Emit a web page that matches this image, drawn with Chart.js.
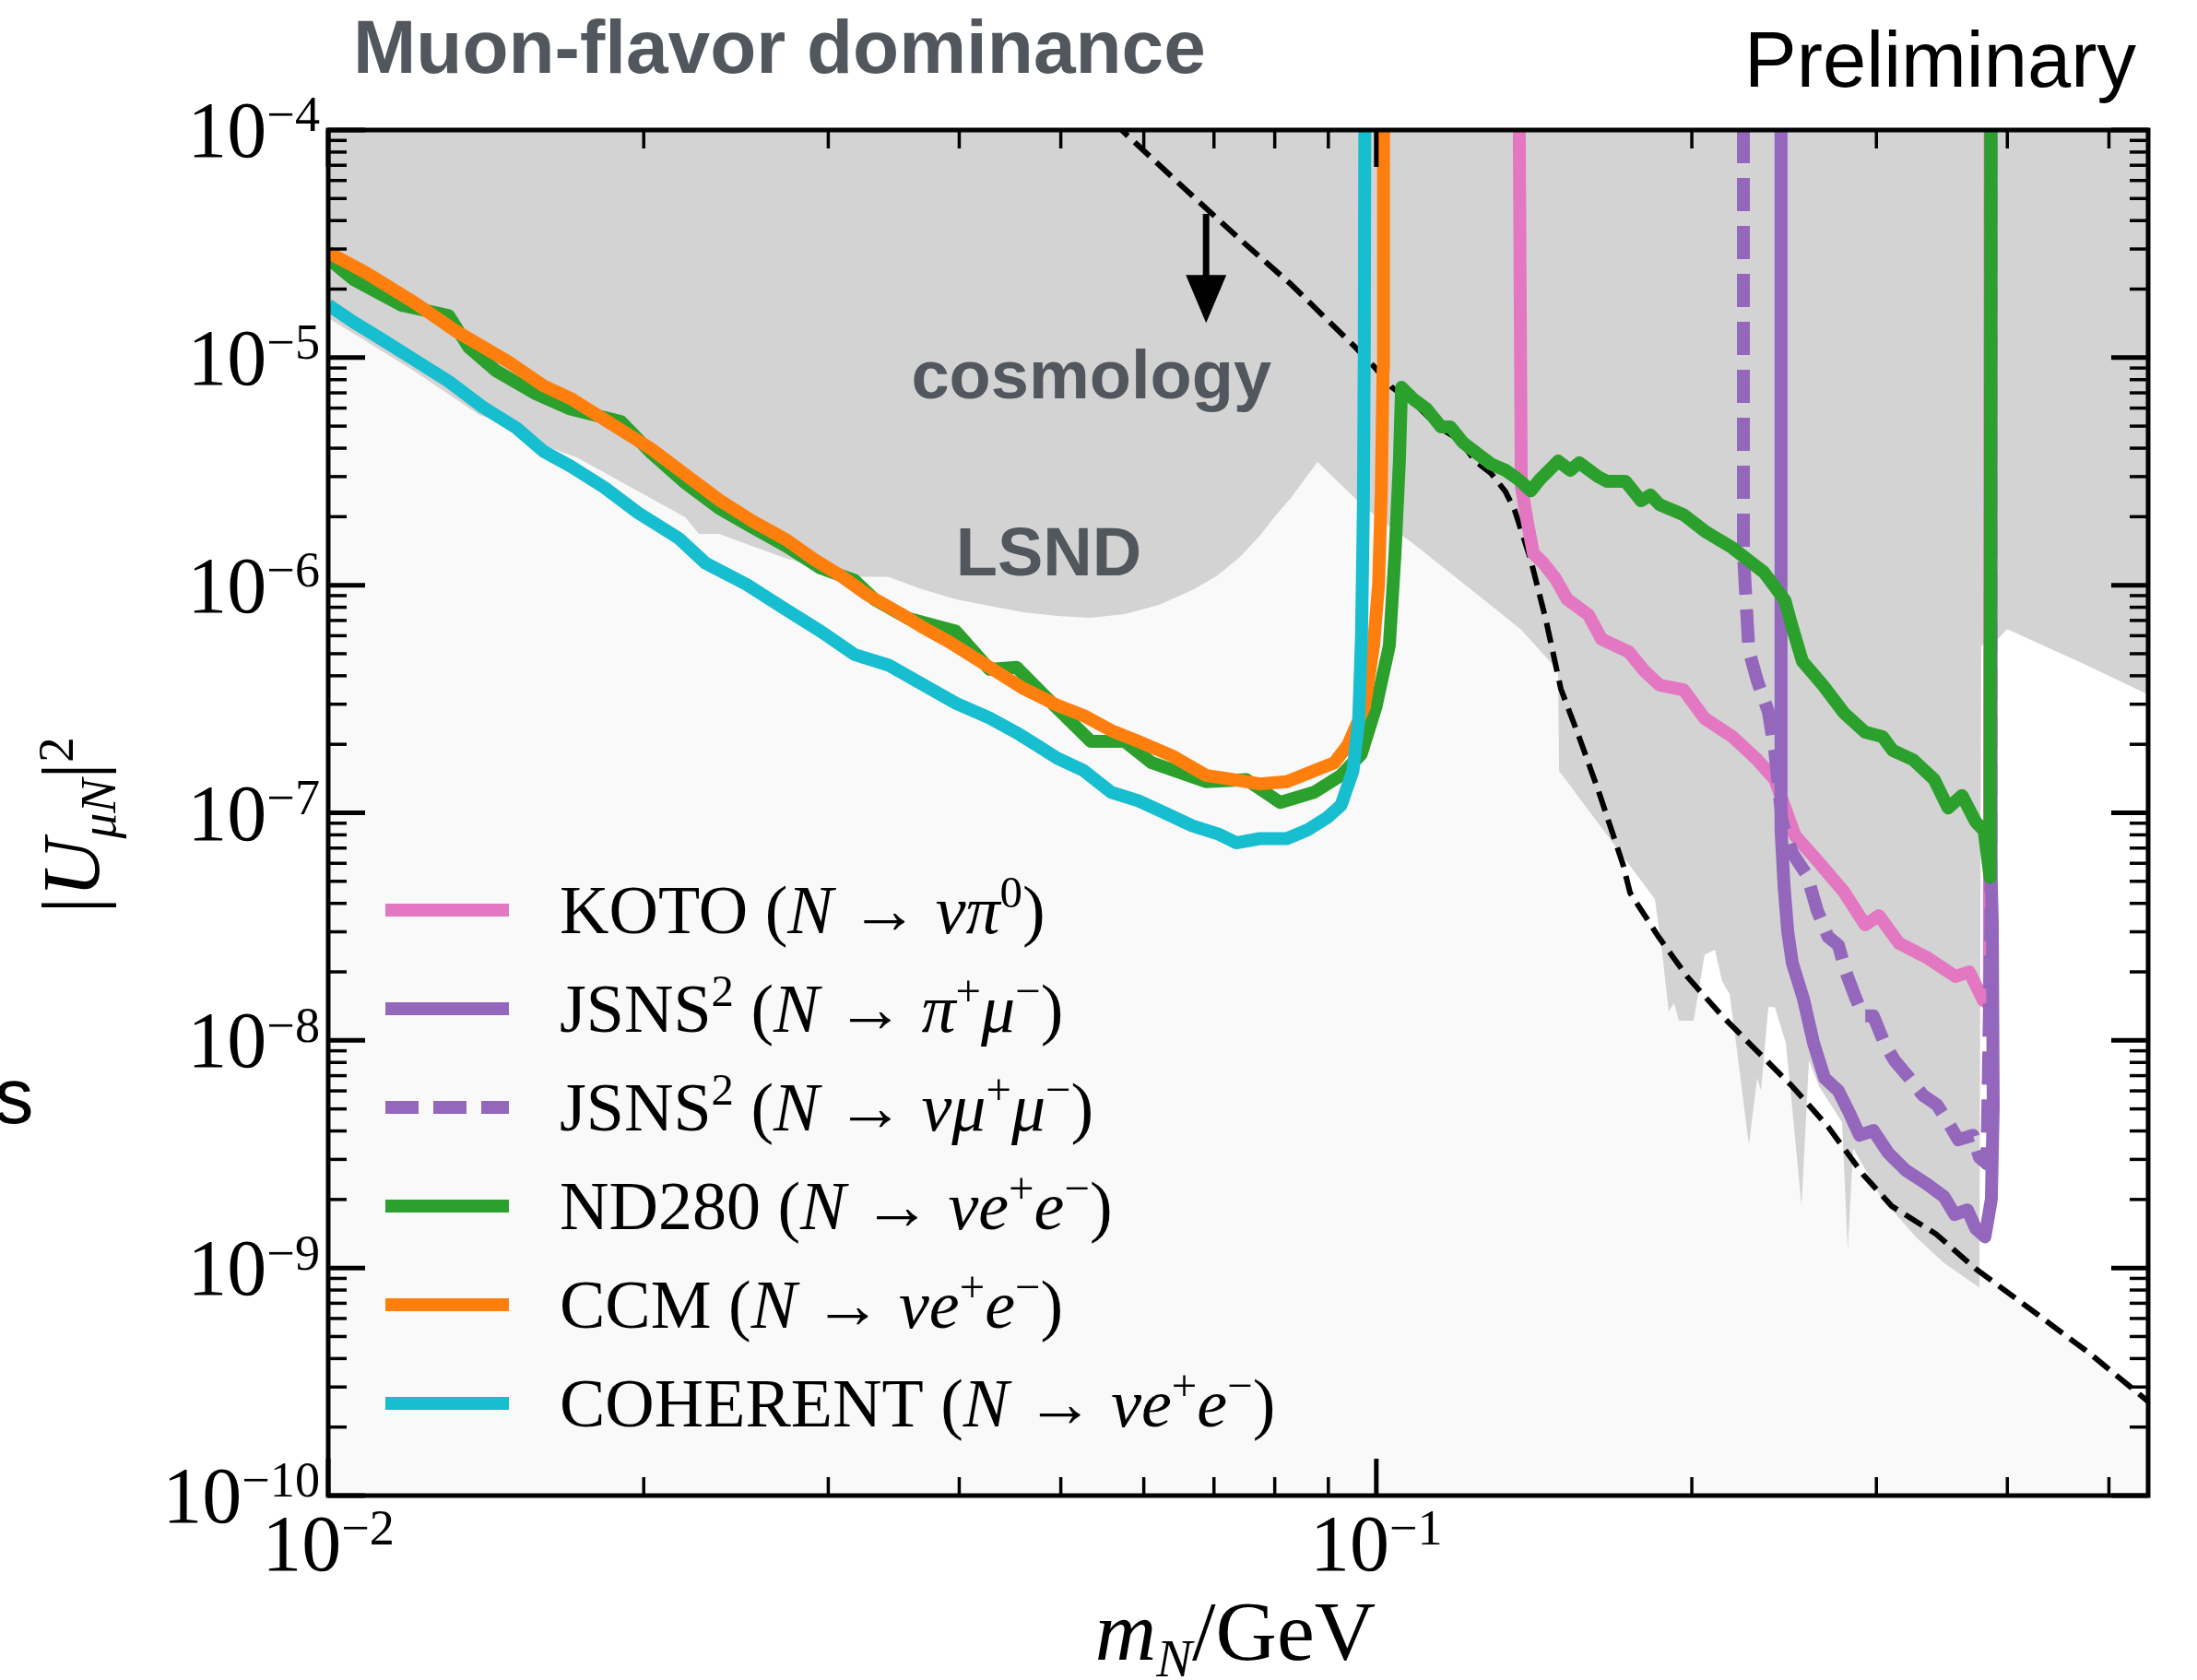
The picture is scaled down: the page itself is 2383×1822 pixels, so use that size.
<!DOCTYPE html>
<html>
<head>
<meta charset="utf-8">
<title>Muon-flavor dominance</title>
<script src="https://cdn.jsdelivr.net/npm/chart.js@4.4.1/dist/chart.umd.min.js"></script>
<style>
  html, body { margin: 0; padding: 0; background: #fff; }
  canvas { display: block; }
</style>
</head>
<body>
<canvas id="hnlChart" width="2383" height="1822"></canvas>
<script>
// values: heavy neutral lepton mass (GeV) vs |U_muN|^2

// COHERENT (N -> nu e+ e-)
const cohMass = [0.0100, 0.01058, 0.01123, 0.01210, 0.01303, 0.01403, 0.01512, 0.01604, 0.01702, 0.01834, 0.01975, 0.02159, 0.02291, 0.02505, 0.02738, 0.02949, 0.03177, 0.03422, 0.03686, 0.03970, 0.04275, 0.04536, 0.04744, 0.04958, 0.05261, 0.05585, 0.05927, 0.06290, 0.06675, 0.07084, 0.07350, 0.07743, 0.08216, 0.08590, 0.08982, 0.09254, 0.09500, 0.09620, 0.09680, 0.09720, 0.09740, 0.09750];
const cohU = [1.70e-5, 1.43e-5, 1.21e-5, 9.74e-6, 7.86e-6, 6.08e-6, 4.91e-6, 3.88e-6, 3.34e-6, 2.69e-6, 2.08e-6, 1.61e-6, 1.25e-6, 1.01e-6, 7.78e-7, 6.28e-7, 4.96e-7, 4.46e-7, 3.68e-7, 3.03e-7, 2.61e-7, 2.25e-7, 1.98e-7, 1.74e-7, 1.53e-7, 1.23e-7, 1.13e-7, 9.96e-8, 8.76e-8, 8.04e-8, 7.38e-8, 7.70e-8, 7.70e-8, 8.39e-8, 9.54e-8, 1.08e-7, 1.53e-7, 2.55e-7, 6.0e-7, 2.2e-6, 1.2e-5, 1e-4];

// CCM (N -> nu e+ e-)
const ccmMass = [0.0100, 0.0109, 0.0121, 0.01323, 0.01489, 0.01604, 0.01703, 0.01834, 0.02035, 0.02192, 0.02360, 0.02542, 0.02738, 0.02906, 0.03084, 0.03273, 0.03525, 0.03686, 0.03912, 0.04275, 0.04603, 0.04958, 0.05261, 0.05585, 0.05927, 0.06383, 0.06878, 0.07296, 0.07743, 0.08216, 0.08720, 0.09118, 0.0939, 0.0974, 0.0994, 0.1005, 0.1011, 0.1015, 0.1016];
const ccmU = [2.90e-5, 2.34e-5, 1.74e-5, 1.31e-5, 9.53e-6, 7.53e-6, 6.62e-6, 5.35e-6, 3.96e-6, 3.06e-6, 2.37e-6, 1.91e-6, 1.58e-6, 1.30e-6, 1.10e-6, 9.04e-7, 7.45e-7, 6.56e-7, 5.64e-7, 4.36e-7, 3.52e-7, 2.97e-7, 2.67e-7, 2.30e-7, 2.06e-7, 1.78e-7, 1.46e-7, 1.40e-7, 1.34e-7, 1.37e-7, 1.53e-7, 1.66e-7, 1.98e-7, 2.91e-7, 5.43e-7, 1.01e-6, 2.58e-6, 8.93e-6, 1e-4];

// ND280 (N -> nu e+ e-)
const nd280Mass = [0.0100, 0.01058, 0.01174, 0.01303, 0.01362, 0.01446, 0.01580, 0.01702, 0.01903, 0.02035, 0.02192, 0.02360, 0.02542, 0.02738, 0.02949, 0.03177, 0.03321, 0.03578, 0.03970, 0.04275, 0.04536, 0.04814, 0.05341, 0.05753, 0.06106, 0.06878, 0.07516, 0.08095, 0.08720, 0.09254, 0.09674, 0.0999, 0.1029, 0.1042, 0.1052, 0.1057, 0.1085, 0.1116, 0.1153, 0.1177, 0.1210, 0.1286, 0.1328, 0.1367, 0.1404, 0.1432, 0.1491, 0.1531, 0.1562, 0.1627, 0.1660, 0.1729, 0.1789, 0.1826, 0.1863, 0.1964, 0.2057, 0.2186, 0.2343, 0.2454, 0.2489, 0.2550, 0.2667, 0.2793, 0.2927, 0.3041, 0.3110, 0.3252, 0.3406, 0.3512, 0.3621, 0.3731, 0.3801, 0.3851, 0.3858];
const nd280U = [2.72e-5, 2.20e-5, 1.70e-5, 1.53e-5, 1.11e-5, 8.75e-6, 6.91e-6, 5.95e-6, 5.23e-6, 3.80e-6, 2.81e-6, 2.18e-6, 1.79e-6, 1.48e-6, 1.19e-6, 1.05e-6, 8.66e-7, 7.14e-7, 6.28e-7, 4.27e-7, 4.36e-7, 3.30e-7, 2.06e-7, 2.06e-7, 1.66e-7, 1.37e-7, 1.40e-7, 1.11e-7, 1.23e-7, 1.46e-7, 1.81e-7, 2.91e-7, 5.43e-7, 1.38e-6, 3.51e-6, 7.40e-6, 6.56e-6, 5.97e-6, 4.96e-6, 4.96e-6, 4.23e-6, 3.41e-6, 3.20e-6, 2.91e-6, 2.60e-6, 2.91e-6, 3.51e-6, 3.20e-6, 3.45e-6, 3.00e-6, 2.86e-6, 2.86e-6, 2.35e-6, 2.49e-6, 2.26e-6, 2.04e-6, 1.73e-6, 1.46e-6, 1.14e-6, 8.58e-7, 6.73e-7, 4.63e-7, 3.64e-7, 2.75e-7, 2.26e-7, 2.16e-7, 1.88e-7, 1.71e-7, 1.40e-7, 1.05e-7, 1.19e-7, 9.14e-8, 8.33e-8, 5.2e-8, 1e-4];

// KOTO (N -> nu pi0)
const kotoMass = [0.1369, 0.1375, 0.1394, 0.1412, 0.1441, 0.1482, 0.1521, 0.1594, 0.1640, 0.1742, 0.1800, 0.1863, 0.1964, 0.2057, 0.2186, 0.2309, 0.2400, 0.2509, 0.2629, 0.2793, 0.2927, 0.3017, 0.3154, 0.3359, 0.3569, 0.3679, 0.3794, 0.3845, 0.3852];
const kotoU = [1e-4, 2.73e-6, 1.88e-6, 1.38e-6, 1.26e-6, 1.07e-6, 8.67e-7, 7.40e-7, 5.80e-7, 5.09e-7, 4.22e-7, 3.64e-7, 3.47e-7, 2.60e-7, 2.16e-7, 1.71e-7, 1.40e-7, 7.95e-8, 6.24e-8, 4.50e-8, 3.22e-8, 3.53e-8, 2.67e-8, 2.30e-8, 1.91e-8, 2.00e-8, 1.50e-8, 1.45e-8, 1e-4];

// JSNS2 (N -> pi+ mu-)
const jsnsPiMass = [0.2433, 0.2433, 0.2449, 0.2469, 0.2494, 0.2556, 0.2613, 0.2677, 0.2760, 0.2827, 0.2891, 0.2980, 0.3078, 0.3199, 0.3352, 0.3483, 0.3562, 0.3664, 0.3732, 0.3808, 0.3862, 0.3878, 0.3870, 0.3860, 0.3860];
const jsnsPiU = [1e-4, 8.41e-8, 4.80e-8, 3.01e-8, 2.19e-8, 1.52e-8, 9.74e-9, 6.84e-9, 6.00e-9, 4.80e-9, 3.83e-9, 4.02e-9, 3.21e-9, 2.69e-9, 2.34e-9, 2.05e-9, 1.72e-9, 1.80e-9, 1.49e-9, 1.37e-9, 2.01e-9, 5.12e-9, 3.31e-8, 5.27e-8, 1e-4];

// JSNS2 (N -> nu mu+ mu-)
const jsnsMuMass = [0.2240, 0.2240, 0.2267, 0.2309, 0.2366, 0.2400, 0.2439, 0.2494, 0.2576, 0.2634, 0.2698, 0.2760, 0.2805, 0.2869, 0.2915, 0.2980, 0.3053, 0.3122, 0.3225, 0.3324, 0.3427, 0.3512, 0.3591, 0.3709, 0.3762, 0.3824, 0.3858, 0.3858];
const jsnsMuU = [1e-4, 1.38e-6, 5.18e-7, 3.81e-7, 2.78e-7, 1.86e-7, 9.14e-8, 6.66e-8, 5.32e-8, 3.73e-8, 2.85e-8, 2.62e-8, 2.00e-8, 1.52e-8, 1.28e-8, 1.28e-8, 9.74e-9, 8.16e-9, 6.84e-9, 5.73e-9, 5.21e-9, 4.37e-9, 3.66e-9, 3.83e-9, 3.06e-9, 2.87e-9, 3.3e-8, 1e-4];

// cosmology bound (dashed); the region below it is shaded very light
const cosmoMass = [0.0536, 0.0574, 0.0670, 0.0749, 0.0829, 0.0955, 0.0994, 0.1035, 0.1094, 0.1146, 0.1200, 0.1243, 0.1286, 0.1328, 0.1355, 0.1404, 0.1452, 0.1500, 0.1562, 0.1630, 0.1721, 0.1746, 0.1859, 0.1979, 0.2138, 0.2309, 0.2494, 0.2698, 0.2915, 0.3103, 0.3420, 0.3732, 0.4188, 0.4798, 0.545];
const cosmoU = [1.34e-4, 9.8e-5, 5.06e-5, 3.17e-5, 2.10e-5, 1.11e-5, 9.18e-6, 7.40e-6, 6.14e-6, 4.96e-6, 4.35e-6, 3.51e-6, 3.11e-6, 2.58e-6, 2.14e-6, 1.29e-6, 6.99e-7, 3.50e-7, 2.14e-7, 1.24e-7, 5.84e-8, 4.46e-8, 2.85e-8, 1.91e-8, 1.28e-8, 8.96e-9, 6.28e-9, 4.17e-9, 2.57e-9, 1.87e-9, 1.41e-9, 9.91e-10, 6.70e-10, 4.20e-10, 2.59e-10];

// lower edge of the existing exclusions (gray, filled up to the top), incl. the LSND bump
const exclMass = [0.0100, 0.01078, 0.01210, 0.01394, 0.01542, 0.01606, 0.01728, 0.02191, 0.02258, 0.02360, 0.02736, 0.03179, 0.03420, 0.03686, 0.03973, 0.04273, 0.04605, 0.04962, 0.05339, 0.05754, 0.06204, 0.06673, 0.07047, 0.07413, 0.07752, 0.08006, 0.08288, 0.08577, 0.08788, 0.09744, 0.1085, 0.1243, 0.1375, 0.1491, 0.1494, 0.1844, 0.1875, 0.1901, 0.1924, 0.1944, 0.2008, 0.2057, 0.2104, 0.2138, 0.2173, 0.2204, 0.2267, 0.2309, 0.2328, 0.2366, 0.2400, 0.2459, 0.2494, 0.2545, 0.2587, 0.2645, 0.2782, 0.2817, 0.2851, 0.3029, 0.3272, 0.3483, 0.3762, 0.3777, 0.3918, 0.3998, 0.4731, 0.545];
const exclU = [1.49e-5, 1.21e-5, 8.68e-6, 5.60e-6, 4.77e-6, 4.11e-6, 3.64e-6, 1.99e-6, 1.68e-6, 1.68e-6, 1.31e-6, 1.09e-6, 1.09e-6, 9.60e-7, 8.66e-7, 8.11e-7, 7.60e-7, 7.32e-7, 7.19e-7, 7.46e-7, 8.19e-7, 9.51e-7, 1.10e-6, 1.33e-6, 1.66e-6, 2.01e-6, 2.42e-6, 3.00e-6, 3.48e-6, 2.20e-6, 1.52e-6, 9.25e-7, 6.37e-7, 4.22e-7, 1.53e-7, 4.18e-8, 2.38e-8, 1.34e-8, 1.46e-8, 1.22e-8, 1.22e-8, 2.38e-8, 2.50e-8, 1.82e-8, 1.60e-8, 9.74e-9, 3.49e-9, 6.84e-9, 6.00e-9, 1.40e-8, 1.40e-8, 9.74e-9, 5.02e-9, 1.87e-9, 8.16e-9, 6.28e-9, 4.37e-9, 1.21e-9, 3.36e-9, 2.05e-9, 1.37e-9, 1.05e-9, 8.22e-10, 5.43e-7, 5.80e-7, 6.42e-7, 4.51e-7, 3.31e-7];

// axis ticks
const xMajorTicks = [0.01, 0.1];
const xTickExp = ['−2', '−1'];
const xMinorTicks = [0.02, 0.03, 0.04, 0.05, 0.06, 0.07, 0.08, 0.09, 0.2, 0.3, 0.4, 0.5];
const yTickExp = [-4, -5, -6, -7, -8, -9, -10];

// text anchors (in data units)
const cosmoLabel = { m: 0.0360, u: 6.62e-6 };
const lsndLabel = { m: 0.0397, u: 1.10e-6 };
const arrowMass = 0.0688, arrowFrom = 4.28e-5, arrowTo = 1.42e-5;

const serif = '"Liberation Serif", "DejaVu Serif", serif';
const sans = '"Liberation Sans", Arial, sans-serif';
const labelGray = '#52565d';

const pts = (ms, us) => ms.map((m, i) => ({ x: m, y: us[i] }));

// draws a run of roman / italic / super / subscript pieces
function richText(ctx, parts, x, y, size, align, o) {
  o = Object.assign({ supScale: 0.63, supRise: 0.32, subScale: 0.63, subDrop: 0.2 }, o || {});
  const segs = parts.map(([t, s]) => {
    const isSup = s.startsWith('sup'), isSub = s.startsWith('sub');
    const fs = isSup ? size * o.supScale : isSub ? size * o.subScale : size;
    const italic = s === 'i' || s === 'supi' || s === 'subi';
    const font = (italic ? 'italic ' : '') + fs.toFixed(1) + 'px ' + serif;
    ctx.font = font;
    return { t, font, w: ctx.measureText(t).width, dy: isSup ? -size * o.supRise : isSub ? size * o.subDrop : 0 };
  });
  const total = segs.reduce((a, s) => a + s.w, 0);
  let cx = align === 'center' ? x - total / 2 : align === 'right' ? x - total : x;
  ctx.textAlign = 'left';
  ctx.textBaseline = 'alphabetic';
  segs.forEach(s => { ctx.font = s.font; ctx.fillText(s.t, cx, y + s.dy); cx += s.w; });
}

const legendEntries = [
  { color: '#e377c2', dash: [], parts: [['KOTO ', 'r'], ['(', 'r'], ['N', 'i'], [' → ', 'r'], ['νπ', 'i'], ['0', 'sup'], [')', 'r']] },
  { color: '#9467bd', dash: [], parts: [['JSNS', 'r'], ['2', 'sup'], [' (', 'r'], ['N', 'i'], [' → ', 'r'], ['π', 'i'], ['+', 'sup'], ['μ', 'i'], ['−', 'sup'], [')', 'r']] },
  { color: '#9467bd', dash: [36, 16], parts: [['JSNS', 'r'], ['2', 'sup'], [' (', 'r'], ['N', 'i'], [' → ', 'r'], ['νμ', 'i'], ['+', 'sup'], ['μ', 'i'], ['−', 'sup'], [')', 'r']] },
  { color: '#2ca02c', dash: [], parts: [['ND280 (', 'r'], ['N', 'i'], [' → ', 'r'], ['νe', 'i'], ['+', 'sup'], ['e', 'i'], ['−', 'sup'], [')', 'r']] },
  { color: '#ff7f0e', dash: [], parts: [['CCM (', 'r'], ['N', 'i'], [' → ', 'r'], ['νe', 'i'], ['+', 'sup'], ['e', 'i'], ['−', 'sup'], [')', 'r']] },
  { color: '#17becf', dash: [], parts: [['COHERENT (', 'r'], ['N', 'i'], [' → ', 'r'], ['νe', 'i'], ['+', 'sup'], ['e', 'i'], ['−', 'sup'], [')', 'r']] }
];

// light backdrop inside the axes
const backdrop = {
  id: 'backdrop',
  beforeDraw(chart) {
    const { ctx, chartArea: a } = chart;
    ctx.save();
    ctx.fillStyle = '#f9f9f9';
    ctx.fillRect(a.left, a.top, a.right - a.left, a.bottom - a.top);
    ctx.restore();
  }
};

// region labels and the cosmology arrow
const annotations = {
  id: 'annotations',
  afterDatasetsDraw(chart) {
    const { ctx, scales: { x, y } } = chart;
    ctx.save();
    ctx.fillStyle = labelGray;
    ctx.font = 'bold 74px ' + sans;
    ctx.textAlign = 'left';
    ctx.textBaseline = 'alphabetic';
    ctx.fillText('cosmology', x.getPixelForValue(cosmoLabel.m), y.getPixelForValue(cosmoLabel.u));
    ctx.fillText('LSND', x.getPixelForValue(lsndLabel.m), y.getPixelForValue(lsndLabel.u));

    const ax = x.getPixelForValue(arrowMass);
    const y0 = y.getPixelForValue(arrowFrom), y1 = y.getPixelForValue(arrowTo);
    ctx.strokeStyle = '#000';
    ctx.fillStyle = '#000';
    ctx.lineWidth = 7;
    ctx.beginPath(); ctx.moveTo(ax, y0); ctx.lineTo(ax, y1 - 46); ctx.stroke();
    ctx.beginPath();
    ctx.moveTo(ax - 22, y1 - 52); ctx.lineTo(ax + 22, y1 - 52); ctx.lineTo(ax, y1);
    ctx.closePath(); ctx.fill();
    ctx.restore();
  }
};

// frame, inward ticks on all sides, tick labels, axis titles, legend, headings
const frameTicks = {
  id: 'frameTicks',
  afterDraw(chart) {
    const { ctx, chartArea: a, scales: { x, y } } = chart;
    ctx.save();
    ctx.strokeStyle = '#000';
    ctx.lineCap = 'butt';
    const seg = (x0, y0, x1, y1, w) => { ctx.lineWidth = w; ctx.beginPath(); ctx.moveTo(x0, y0); ctx.lineTo(x1, y1); ctx.stroke(); };

    xMinorTicks.forEach(v => {
      const px = x.getPixelForValue(v);
      seg(px, a.bottom, px, a.bottom - 20, 3.5);
      seg(px, a.top, px, a.top + 20, 3.5);
    });
    xMajorTicks.forEach(v => {
      const px = x.getPixelForValue(v);
      seg(px, a.bottom, px, a.bottom - 40, 5);
      seg(px, a.top, px, a.top + 40, 5);
    });
    yTickExp.forEach(k => {
      const py = y.getPixelForValue(Math.pow(10, k));
      seg(a.left, py, a.left + 40, py, 5);
      seg(a.right, py, a.right - 40, py, 5);
      if (k > -10) {
        for (let d = 2; d <= 9; d++) {
          const pm = y.getPixelForValue(d * Math.pow(10, k - 1));
          seg(a.left, pm, a.left + 20, pm, 3.5);
          seg(a.right, pm, a.right - 20, pm, 3.5);
        }
      }
    });
    ctx.lineWidth = 5;
    ctx.strokeRect(a.left, a.top, a.right - a.left, a.bottom - a.top);

    // tick labels
    ctx.fillStyle = '#000';
    xMajorTicks.forEach((v, i) => {
      richText(ctx, [['10', 'r'], [xTickExp[i], 'sup']], x.getPixelForValue(v), a.bottom + 81, 86, 'center');
    });
    yTickExp.forEach(k => {
      const py = y.getPixelForValue(Math.pow(10, k));
      richText(ctx, [['10', 'r'], ['−' + Math.abs(k), 'sup']], a.left - 9, py + 29, 86, 'right');
    });

    // axis titles
    richText(ctx, [['m', 'i'], ['N', 'subi'], ['/GeV', 'r']], (a.left + a.right) / 2 - 3, 1800, 92, 'center');
    ctx.save();
    ctx.translate(107, 895);
    ctx.rotate(-Math.PI / 2);
    richText(ctx, [['|', 'r'], ['U', 'i'], ['μN', 'subi'], ['|', 'r'], ['2', 'sup']], 0, 0, 88, 'center');
    ctx.restore();

    // legend
    legendEntries.forEach((e, i) => {
      const ly = 987 + i * 107;
      ctx.strokeStyle = e.color;
      ctx.lineWidth = 14;
      ctx.setLineDash(e.dash);
      ctx.beginPath(); ctx.moveTo(418, ly); ctx.lineTo(552, ly); ctx.stroke();
      ctx.setLineDash([]);
      ctx.fillStyle = '#000';
      richText(ctx, e.parts, 607, ly + 25, 74, 'left', { supScale: 0.66, supRise: 0.38 });
    });

    // headings
    ctx.textAlign = 'left';
    ctx.textBaseline = 'alphabetic';
    ctx.fillStyle = labelGray;
    ctx.font = 'bold 82px ' + sans;
    ctx.fillText('Muon-flavor dominance', 383, 79);
    ctx.fillStyle = '#000';
    ctx.font = '85px ' + sans;
    ctx.fillText('Preliminary', 1892, 94);
    ctx.fillText('s', -6, 1218);
    ctx.restore();
  }
};

const lineBase = { fill: false, pointRadius: 0, borderWidth: 14, clip: 0, borderJoinStyle: 'round' };

new Chart(document.getElementById('hnlChart'), {
  type: 'line',
  data: {
    datasets: [
      { label: 'above cosmology', data: pts(cosmoMass, cosmoU), fill: 'end', backgroundColor: '#ffffff', borderWidth: 0, pointRadius: 0, clip: 0, order: 10 },
      { label: 'excluded', data: pts(exclMass, exclU), fill: 'end', backgroundColor: '#d3d3d3', borderWidth: 0, pointRadius: 0, clip: 0, order: 9 },
      Object.assign({}, lineBase, { label: 'cosmology', data: pts(cosmoMass, cosmoU), borderColor: '#000000', borderWidth: 6, borderDash: [22, 10], borderJoinStyle: 'miter', order: 8 }),
      Object.assign({}, lineBase, { label: 'KOTO', data: pts(kotoMass, kotoU), borderColor: '#e377c2', order: 7 }),
      Object.assign({}, lineBase, { label: 'JSNS2 pi mu', data: pts(jsnsPiMass, jsnsPiU), borderColor: '#9467bd', order: 6 }),
      Object.assign({}, lineBase, { label: 'JSNS2 nu mu mu', data: pts(jsnsMuMass, jsnsMuU), borderColor: '#9467bd', borderDash: [36, 16], order: 5 }),
      Object.assign({}, lineBase, { label: 'ND280', data: pts(nd280Mass, nd280U), borderColor: '#2ca02c', order: 4 }),
      Object.assign({}, lineBase, { label: 'CCM', data: pts(ccmMass, ccmU), borderColor: '#ff7f0e', order: 3 }),
      Object.assign({}, lineBase, { label: 'COHERENT', data: pts(cohMass, cohU), borderColor: '#17becf', order: 2 })
    ]
  },
  options: {
    responsive: false,
    devicePixelRatio: 1,
    animation: false,
    events: [],
    layout: { padding: { left: 356, top: 141, right: 53, bottom: 200 } },
    scales: {
      x: { type: 'logarithmic', min: 0.01, max: 0.545, display: false },
      y: { type: 'logarithmic', min: 1e-10, max: 1e-4, display: false }
    },
    elements: { point: { radius: 0 }, line: { tension: 0 } },
    plugins: { legend: { display: false }, tooltip: { enabled: false } }
  },
  plugins: [backdrop, annotations, frameTicks]
});
</script>
</body>
</html>
